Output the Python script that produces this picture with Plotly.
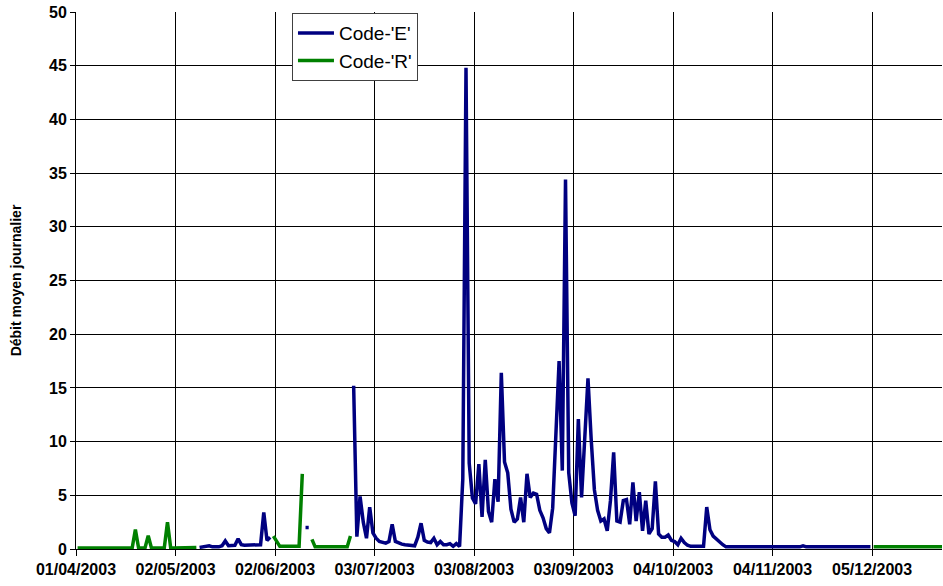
import plotly.graph_objects as go
import pandas as pd

# Daily mean discharge from 01/04/2003, one value per day
debit = [
    0.1, 0.1, 0.1, 0.1, 0.1, 0.1, 0.1, 0.1, 0.1, 0.1,          # 01/04
    0.1, 0.1, 0.1, 0.1, 0.1, 0.1, 0.1, 0.1, 1.8, 0.1,          # 11/04
    0.1, 0.1, 1.25, 0.1, 0.1, 0.1, 0.1, 0.1, 2.5, 0.1,         # 21/04
    0.1, 0.1, 0.1, 0.1, 0.1, 0.1, 0.1, 0.15, 0.15, 0.2,        # 01/05
    0.2, 0.3, 0.2, 0.2, 0.2, 0.3, 0.75, 0.3, 0.3, 0.35,        # 11/05
    0.95, 0.4, 0.35, 0.35, 0.35, 0.35, 0.35, 0.4, 3.4, 0.8,    # 21/05
    1.1, 1.2, 0.7, 0.25, 0.25, 0.25, 0.25, 0.25, 0.25, 0.25,   # 31/05
    7.0, 2.0, 2.0, 0.9, 0.2, 0.2, 0.2, 0.2, 0.2, 0.2,          # 10/06
    0.2, 0.2, 0.2, 0.2, 0.2, 1.2, 15.2, 1.15, 4.9, 2.5,        # 20/06
    1.0, 3.9, 1.5, 1.0, 0.7, 0.6, 0.55, 0.7, 2.3, 0.7,         # 30/06
    0.55, 0.45, 0.4, 0.35, 0.3, 0.3, 1.1, 2.4, 0.8, 0.65,      # 10/07
    0.6, 1.0, 0.4, 0.7, 0.4, 0.4, 0.5, 0.25, 0.5, 0.25,        # 20/07
    6.5, 44.8, 8.0, 4.75, 4.2, 7.9, 3.0, 8.3, 3.5, 2.5,        # 30/07
    6.5, 4.4, 16.4, 8.1, 7.1, 3.7, 2.5, 2.8, 4.8, 2.5,         # 09/08
    7.0, 4.8, 5.2, 5.1, 3.6, 2.9, 1.9, 1.5, 3.8, 11.5,         # 19/08
    17.5, 7.3, 34.4, 7.1, 4.3, 3.1, 12.1, 4.8, 10.5, 15.9,     # 29/08
    10.2, 5.5, 3.6, 2.6, 2.8, 1.7, 4.5, 9.0, 2.6, 2.5,         # 08/09
    4.5, 4.6, 2.3, 6.2, 2.6, 5.3, 1.7, 4.5, 1.4, 1.9,          # 18/09
    6.3, 1.4, 1.1, 1.1, 1.3, 0.8, 0.7, 0.4, 1.0, 0.6,          # 28/09
    0.35, 0.25, 0.25, 0.25, 0.25, 0.25, 3.9, 1.8, 1.2, 0.9,    # 08/10
    0.6, 0.4, 0.2, 0.2, 0.2, 0.2, 0.2, 0.2, 0.2, 0.2,          # 18/10
    0.2, 0.2, 0.2, 0.2, 0.2, 0.2, 0.2, 0.2, 0.2, 0.2,          # 28/10
    0.2, 0.2, 0.2, 0.2, 0.2, 0.2, 0.3, 0.2, 0.2, 0.2,          # 07/11
    0.2, 0.2, 0.2, 0.2, 0.2, 0.2, 0.2, 0.2, 0.2, 0.2,          # 17/11
    0.2, 0.2, 0.2, 0.2, 0.2, 0.2, 0.2, 0.2, 0.2, 0.2,          # 27/11
    0.2, 0.2, 0.2, 0.2, 0.2, 0.2, 0.2, 0.2, 0.2, 0.2,          # 07/12
    0.2, 0.2, 0.2, 0.2, 0.2, 0.2, 0.2, 0.2, 0.2, 0.2,          # 17/12
    0.2,                                                       # 27/12
]

# Quality code of each day
code = (
    "RRRRRRRRRR" "RRRRRRRRRR" "RRRRRRRRRR" "RRRRRRRREE"
    "EEEEEEEEEE" "EEEEEEEEEE" "ERRRRRRRRR" "REERRRRRRR"
    "RRRRRREEEE" "EEEEEEEEEE" "EEEEEEEEEE" "EEEEEEEEEE"
    "EEEEEEEEEE" "EEEEEEEEEE" "EEEEEEEEEE" "EEEEEEEEEE"
    "EEEEEEEEEE" "EEEEEEEEEE" "EEEEEEEEEE" "EEEEEEEEEE"
    "EEEEEEEEEE" "EEEEEEEEEE" "EEEEEEEEEE" "EEEEEEEEEE"
    "EEEEEEEERR" "RRRRRRRRRR" "RRRRRRRRRR" "R"
)

series = ["E", "R"]
colors = {"E": "#000080", "R": "#008000"}

# points sit in the middle of each day, like the Excel date axis
dates = pd.date_range("2003-04-01 12:00", periods=len(debit), freq="D")

fig = go.Figure()
for s in series:
    y = [v if c == s else None for v, c in zip(debit, code)]
    fig.add_trace(go.Scatter(
        x=dates, y=y, mode="lines", name="Code-'%s'" % s,
        legendgroup=s,
        line=dict(color=colors[s], width=3.5),
        connectgaps=False,
    ))

bold = dict(family="Arial, Liberation Sans", size=16, color="black", weight="bold")

fig.update_layout(
    width=943, height=586,
    margin=dict(l=76, r=1, t=12, b=37),
    paper_bgcolor="white", plot_bgcolor="white",
    font=dict(family="Arial, Liberation Sans", color="black"),
    showlegend=True,
    legend=dict(
        x=0.2494, y=0.998, xanchor="left", yanchor="top",
        bgcolor="white", bordercolor="#404040", borderwidth=1,
        font=dict(size=19),
        itemwidth=36,
        tracegroupgap=0,
    ),
    xaxis=dict(
        type="date",
        range=["2003-04-01", "2003-12-26 19:00"],
        tick0="2003-04-01", dtick=31 * 86400000,
        tickformat="%d/%m/%Y",
        tickfont=bold,
        ticks="outside", ticklen=6, tickcolor="black",
        showgrid=True, gridcolor="black", gridwidth=1,
        showline=True, linecolor="black", linewidth=1,
        zeroline=False,
    ),
    yaxis=dict(
        range=[0, 50], dtick=5,
        tickfont=bold,
        ticks="outside", ticklen=5, tickcolor="black",
        showgrid=True, gridcolor="black", gridwidth=1,
        showline=True, linecolor="black", linewidth=1,
        zeroline=False,
        title=dict(text="Débit moyen journalier", standoff=24,
                   font=dict(family="Arial, Liberation Sans", size=14,
                             color="black", weight="bold")),
    ),
)

# drop the default 8px body margin so the figure fills the window
fig.write_html("out.html", config={"displayModeBar": False},
               post_script="document.body.style.margin = '0';")
